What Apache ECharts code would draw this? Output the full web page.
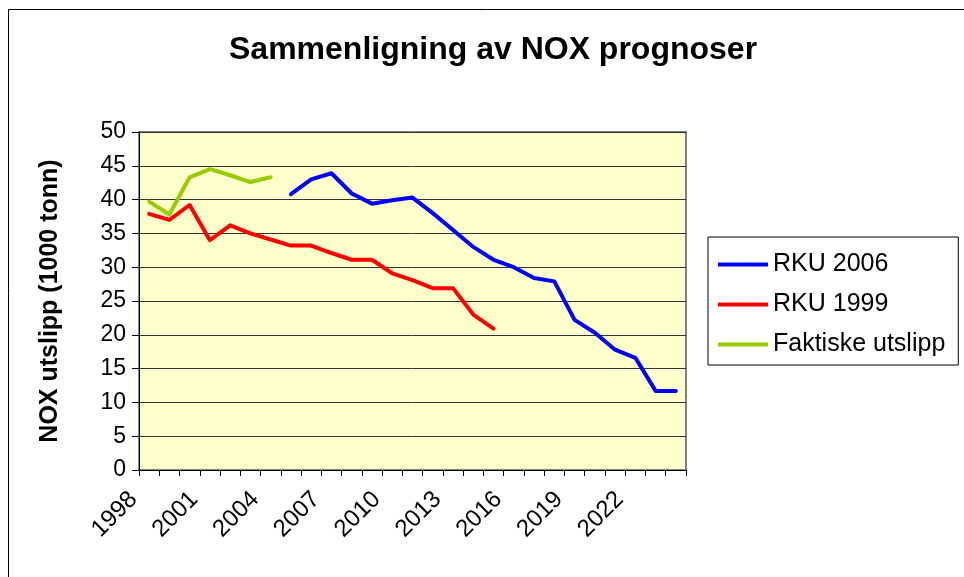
<!DOCTYPE html>
<html>
<head>
<meta charset="utf-8">
<script src="https://cdn.jsdelivr.net/npm/echarts@6/dist/echarts.min.js"></script>
<style>
  html, body { margin: 0; padding: 0; background: #fff; }
  #chart { width: 964px; height: 577px; }
</style>
</head>
<body>
<div id="chart"></div>
<script>
var years = ['1998','1999','2000','2001','2002','2003','2004','2005','2006','2007','2008','2009','2010',
             '2011','2012','2013','2014','2015','2016','2017','2018','2019','2020','2021','2022','2023','2024'];
var rku2006 = [null,null,null,null,null,null,null,40.8,43.0,43.9,40.9,39.4,39.9,
               40.3,38.0,35.5,33.0,31.1,30.0,28.4,27.9,22.2,20.3,17.8,16.6,11.7,11.7];
var rku1999 = [37.9,37.0,39.2,34.0,36.2,35.0,34.1,33.2,33.2,32.1,31.1,31.1,29.1,
               28.1,26.9,26.9,23.0,20.9];
var faktiske = [39.7,37.8,43.3,44.5,43.6,42.6,43.3];
var yTicks = [0,5,10,15,20,25,30,35,40,45,50];

var font = 'Arial, "Liberation Sans", sans-serif';
var chart = echarts.init(document.getElementById('chart'));

function lineSeries(name, data, color) {
    return {
        name: name,
        type: 'line',
        data: data,
        symbol: 'none',
        connectNulls: false,
        lineStyle: { color: color, width: 4, join: 'round', cap: 'round' },
        itemStyle: { color: color }
    };
}

var option = {
    animation: false,
    backgroundColor: '#fff',
    title: {
        text: 'Sammenligning av NOX prognoser',
        left: 224,
        top: 29,
        textStyle: { fontFamily: font, fontSize: 32, fontWeight: 'bold', color: '#000' }
    },
    graphic: [{
        type: 'rect',
        shape: { x: 8.5, y: 9.5, width: 1000, height: 1000 },
        style: { fill: 'none', stroke: '#000', lineWidth: 1 }
    }],
    legend: {
        orient: 'vertical',
        left: 708,
        top: 237,
        padding: [15, 13, 8, 10],
        itemGap: 15,
        itemWidth: 50,
        itemHeight: 4,
        icon: 'rect',
        borderColor: '#000',
        borderWidth: 1,
        backgroundColor: '#fff',
        textStyle: { fontFamily: font, fontSize: 25, color: '#000', lineHeight: 25 },
        data: ['RKU 2006', 'RKU 1999', 'Faktiske utslipp']
    },
    grid: {
        left: 139,
        right: 278,
        top: 132,
        bottom: 107,
        show: true,
        backgroundColor: '#FFFFCC',
        borderColor: '#808080',
        borderWidth: 2
    },
    xAxis: {
        type: 'category',
        data: years,
        boundaryGap: true,
        axisLine: { lineStyle: { color: '#000', width: 1 } },
        axisTick: { show: true, interval: 0, length: 6, lineStyle: { color: '#000' } },
        axisLabel: {
            interval: 2,
            rotate: 45,
            margin: 10,
            padding: [0, 22, 0, 0],
            fontFamily: font,
            fontSize: 24,
            color: '#000'
        },
        splitLine: { show: false }
    },
    yAxis: {
        type: 'value',
        min: yTicks[0],
        max: yTicks[yTicks.length - 1],
        interval: 5,
        name: 'NOX utslipp (1000 tonn)',
        nameLocation: 'middle',
        nameGap: 76,
        nameTextStyle: { fontFamily: font, fontSize: 25, fontWeight: 'bold', color: '#000' },
        axisLine: { show: true, lineStyle: { color: '#000', width: 1 } },
        axisTick: { show: true, length: 7, lineStyle: { color: '#000' } },
        axisLabel: { fontFamily: font, fontSize: 23, color: '#000', margin: 13 },
        splitLine: { show: true, lineStyle: { color: '#333', width: 1 } }
    },
    series: [
        lineSeries('RKU 2006', rku2006, '#0000FF'),
        lineSeries('RKU 1999', rku1999, '#FF0000'),
        lineSeries('Faktiske utslipp', faktiske, '#99CC00')
    ]
};
chart.setOption(option);
</script>
</body>
</html>
